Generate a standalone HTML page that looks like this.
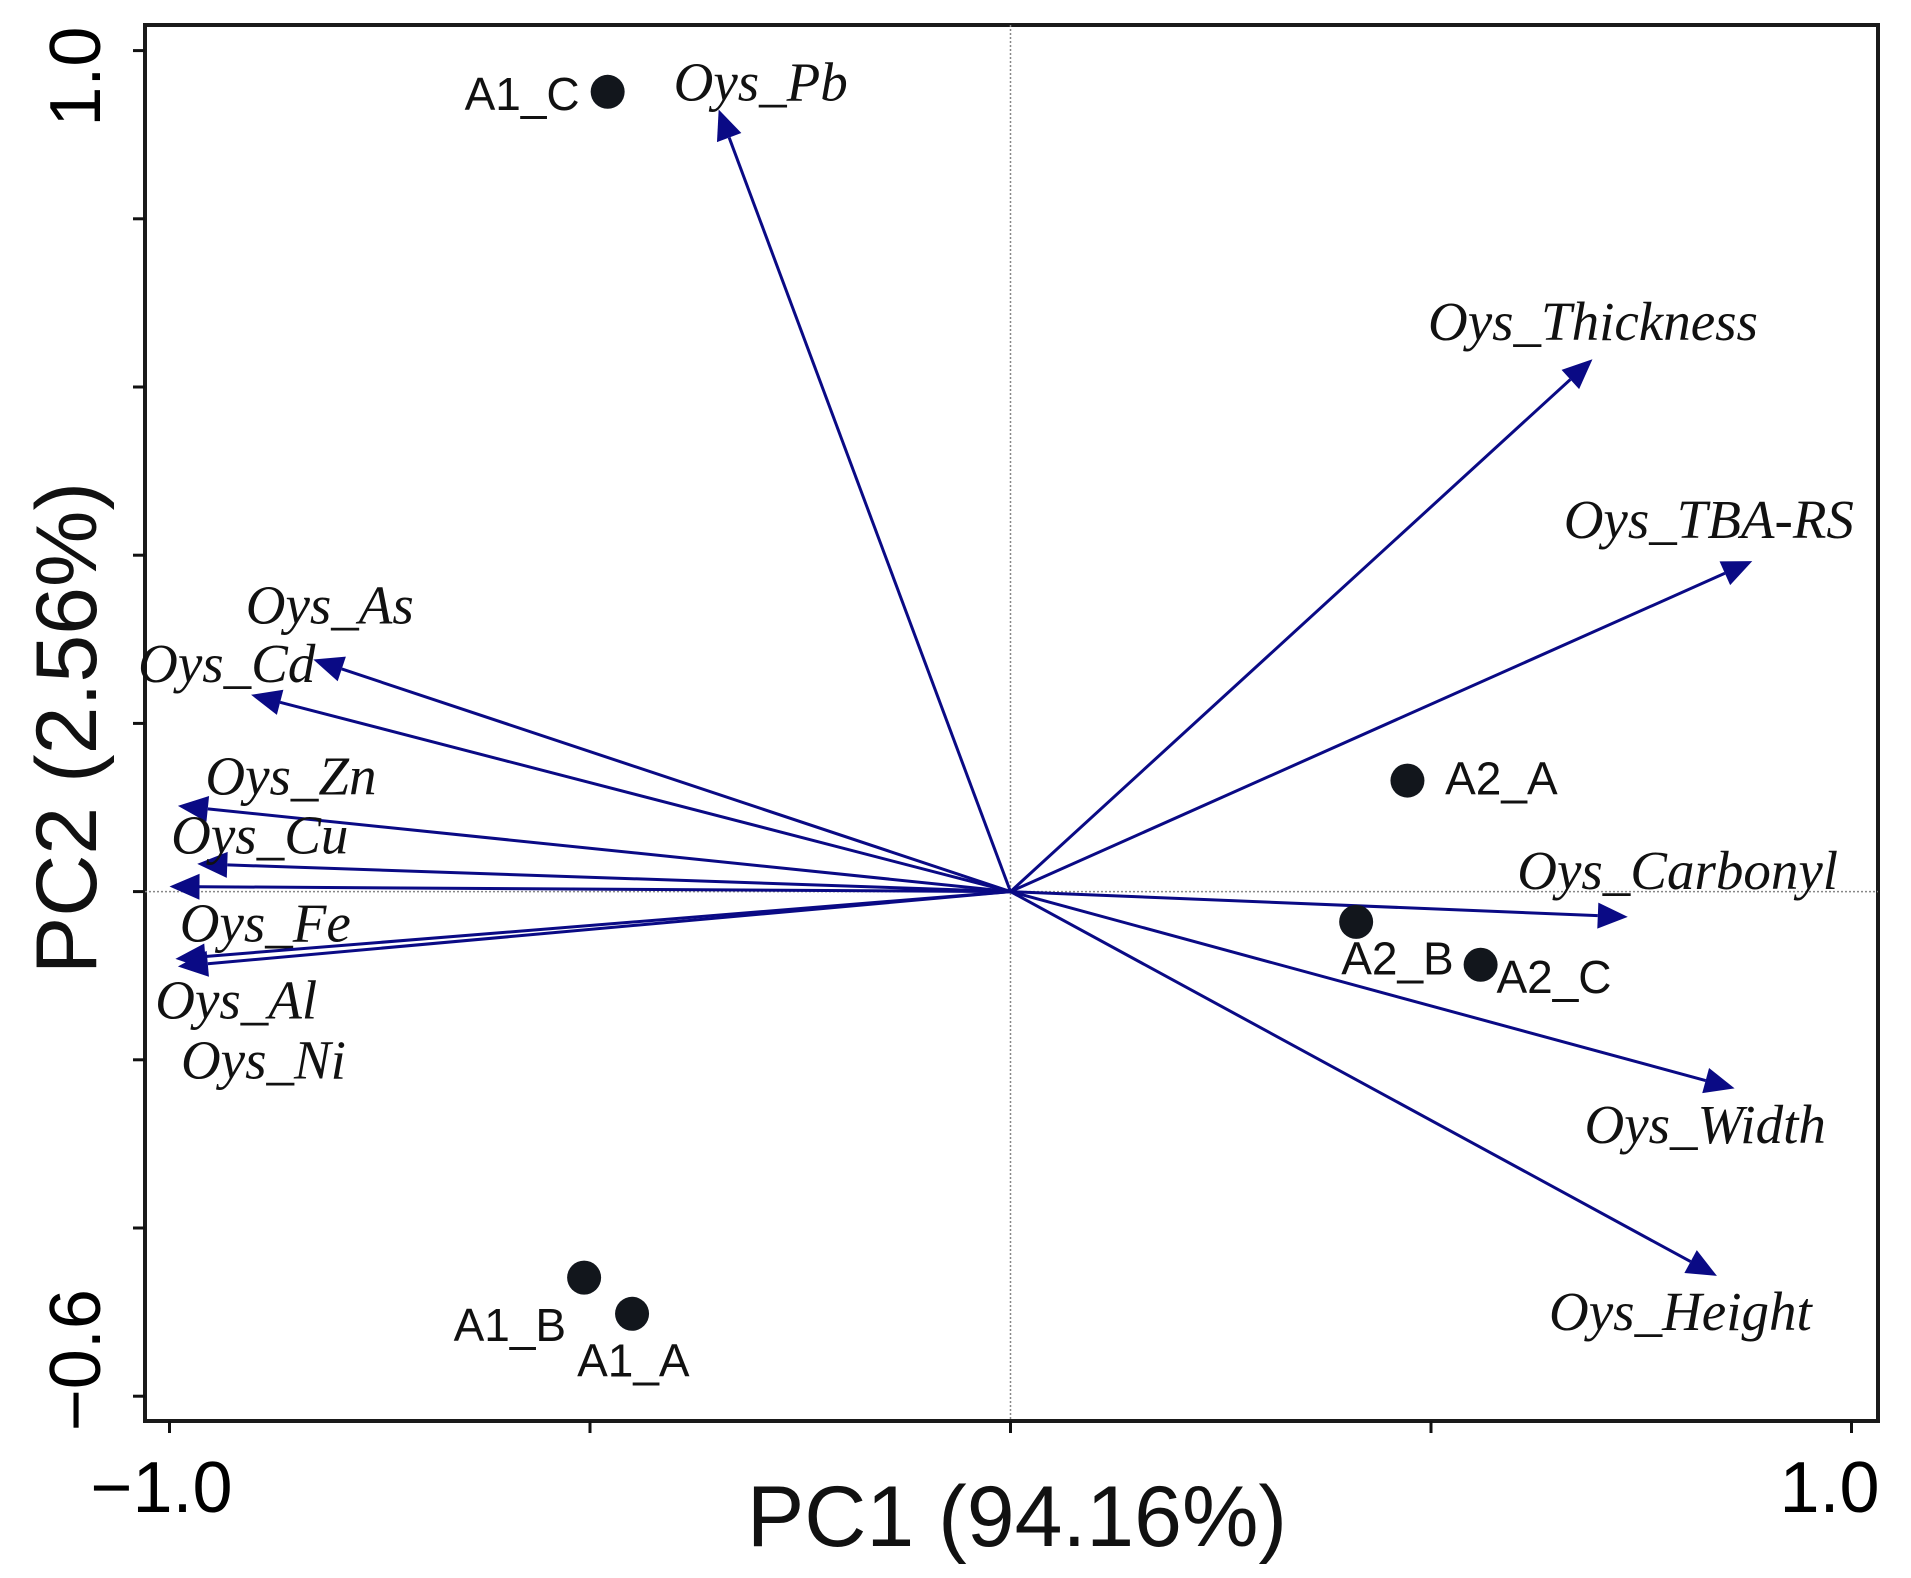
<!DOCTYPE html>
<html><head><meta charset="utf-8"><style>
html,body{margin:0;padding:0;background:#fff;}
svg{display:block;}
.tick{font-family:"Liberation Sans",sans-serif;font-size:72px;fill:#000;}
.title{font-family:"Liberation Sans",sans-serif;font-size:86px;fill:#111;}
.vlab{font-family:"Liberation Serif",serif;font-style:italic;font-size:55px;fill:#111;}
.plab{font-family:"Liberation Sans",sans-serif;font-size:46px;fill:#111;}
</style></head><body>
<svg id="chart" width="1911" height="1578" viewBox="0 0 1911 1578" xmlns="http://www.w3.org/2000/svg">
<rect x="145" y="25" width="1733" height="1396" fill="none" stroke="#1a1a1a" stroke-width="4"/>
<g id="g"></g>
</svg>
<script>
const varNames=["Oys_Pb","Oys_Thickness","Oys_TBA-RS","Oys_Carbonyl","Oys_Width","Oys_Height","Oys_As","Oys_Cd","Oys_Zn","Oys_Cu","Oys_Fe","Oys_Al","Oys_Ni"];
const varPC1=[-0.347,0.692,0.882,0.734,0.861,0.840,-0.829,-0.903,-0.990,-0.967,-1.0,-0.993,-0.990];
const varPC2=[0.930,0.633,0.393,-0.030,-0.234,-0.457,0.276,0.234,0.102,0.033,0.006,-0.080,-0.089];
const sampleNames=["A1_C","A2_A","A2_B","A2_C","A1_B","A1_A"];
const samplePC1=[-0.479,0.472,0.411,0.559,-0.507,-0.450];
const samplePC2=[0.951,0.132,-0.036,-0.087,-0.459,-0.502];
const xTicks=[-1,-0.5,0,0.5,1];
const yTicks=[1,0.8,0.6,0.4,0.2,0,-0.2,-0.4,-0.6];
const xTickLabels=["−1.0","1.0"];
const yTickLabels=["1.0","−0.6"];

const S=1.2226;
const X=v=>1010.5+v*841;
const Y=v=>891.6-v*841;
const varLab=[[551,82],[1168,278],[1279,440],[1241,727],[1296,935],[1267,1088],[201,510],[113,558],[168,650],[140,698],[147,770],[127,833],[148,882]];
const smpLab=[[380,90],[1182,650],[1097,797],[1224,812],[371,1097],[472,1126]];

const NS="http://www.w3.org/2000/svg";
const g=document.getElementById('g');
function mk(t,a,p){const e=document.createElementNS(NS,t);for(const k in a)e.setAttribute(k,a[k]);(p||g).appendChild(e);return e;}

let l=mk('line',{x1:X(0),x2:X(0),y1:25,y2:1421,stroke:'#888','stroke-width':1.5,'stroke-dasharray':'2,2'});


l=mk('line',{x1:145,x2:1878,y1:Y(0),y2:Y(0),stroke:'#888','stroke-width':1.5,'stroke-dasharray':'2,2'});



xTicks.forEach(v=>{const t=mk('line',{x1:X(v),x2:X(v),y1:1421,y2:1433,stroke:'#111','stroke-width':3});

});
yTicks.forEach(v=>{const t=mk('line',{x1:133,x2:145,y1:Y(v),y2:Y(v),stroke:'#111','stroke-width':3});

});
let t=mk('text',{x:X(-1)-8,y:1512,'text-anchor':'middle',class:'tick'});t.textContent=xTickLabels[0];


t=mk('text',{x:X(1)-22,y:1512,'text-anchor':'middle',class:'tick'});t.textContent=xTickLabels[1];


t=mk('text',{x:0,y:0,'text-anchor':'middle',class:'tick',transform:`translate(100,${Y(1)+26}) rotate(-90)`});t.textContent=yTickLabels[0];


t=mk('text',{x:0,y:0,'text-anchor':'middle',class:'tick',transform:`translate(100,${Y(-0.6)-36}) rotate(-90)`});t.textContent=yTickLabels[1];



t=mk('text',{x:1017,y:1546,'text-anchor':'middle',class:'title'});t.textContent="PC1 (94.16%)";


t=mk('text',{x:0,y:0,'text-anchor':'middle',class:'title',transform:`translate(96,728) rotate(-90)`});t.textContent="PC2 (2.56%)";



varNames.forEach((n,i)=>{
  const x1=X(0),y1=Y(0),x2=X(varPC1[i]),y2=Y(varPC2[i]);
  const dx=x2-x1,dy=y2-y1,L=Math.hypot(dx,dy),ux=dx/L,uy=dy/L;
  const hl=30,hw=13;
  const bx=x2-ux*hl,by=y2-uy*hl;
  const ln=mk('line',{x1:x1,y1:y1,x2:bx,y2:by,stroke:'#0a0a85','stroke-width':3});
  
  
  const hd=mk('polygon',{points:`${x2},${y2} ${bx-uy*hw},${by+ux*hw} ${bx+uy*hw},${by-ux*hw}`,fill:'#0a0a85'});
  
  
  const tx=mk('text',{x:varLab[i][0]*S,y:varLab[i][1]*S,class:'vlab'});tx.textContent=n;
  
  
});
sampleNames.forEach((n,i)=>{
  const c=mk('circle',{cx:X(samplePC1[i]),cy:Y(samplePC2[i]),r:17,fill:'#12161c'});
  
  
  const tx=mk('text',{x:smpLab[i][0]*S,y:smpLab[i][1]*S,class:'plab'});tx.textContent=n;
  
  
});
</script>
</body></html>
